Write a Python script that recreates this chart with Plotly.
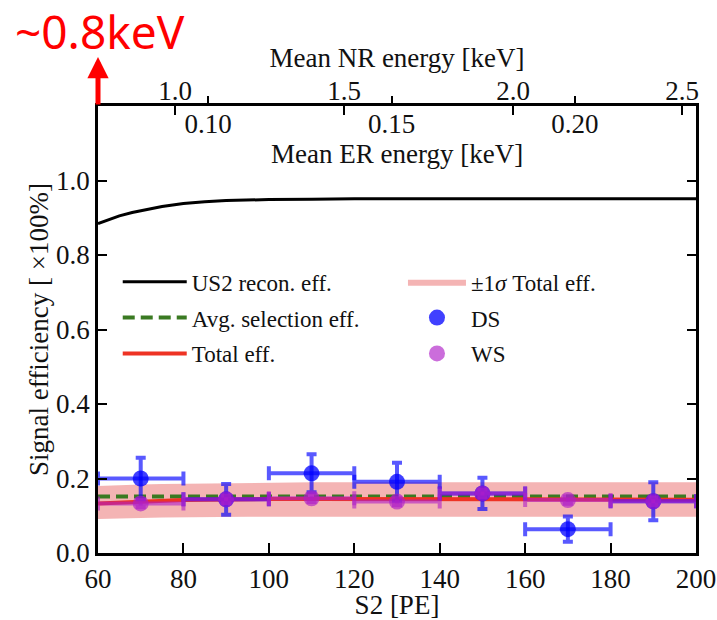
import plotly.graph_objects as go

# ---- data -------------------------------------------------------------
s2_curve = [60, 62, 65, 68, 70, 75, 80, 85, 90, 95, 100, 110, 120, 140, 160, 180, 200]
recon_eff = [0.884, 0.893, 0.905, 0.914, 0.919, 0.930, 0.938, 0.943, 0.946, 0.948,
             0.949, 0.950, 0.951, 0.951, 0.951, 0.951, 0.951]
total_eff = [0.133, 0.134, 0.136, 0.138, 0.139, 0.141, 0.142, 0.143, 0.144, 0.144,
             0.145, 0.145, 0.145, 0.145, 0.145, 0.144, 0.143]
total_lo = [0.091, 0.092, 0.093, 0.094, 0.094, 0.095, 0.096, 0.096, 0.097, 0.097,
            0.097, 0.097, 0.097, 0.097, 0.097, 0.097, 0.097]
total_hi = [0.180, 0.181, 0.182, 0.183, 0.184, 0.185, 0.186, 0.187, 0.188, 0.189,
            0.189, 0.190, 0.190, 0.190, 0.190, 0.190, 0.190]

sel_x = [60, 200]
sel_eff = [0.152, 0.152]

bin_centers = [70, 90, 110, 130, 150, 170, 190]
bin_half = [10, 10, 10, 10, 10, 10, 10]
ds_eff = [0.200, 0.144, 0.214, 0.191, 0.160, 0.064, 0.139]
ds_err = [0.056, 0.041, 0.051, 0.051, 0.042, 0.034, 0.051]
ws_eff = [0.133, 0.144, 0.147, 0.138, 0.160, 0.142, 0.139]
ws_err = [0.010, 0.010, 0.010, 0.010, 0.010, 0.010, 0.010]

s2_ticks = [60, 80, 100, 120, 140, 160, 180, 200]
eff_ticks = [0.0, 0.2, 0.4, 0.6, 0.8, 1.0, 1.2]
nr_ticks = [1.0, 1.5, 2.0, 2.5]
nr_range = [0.772, 2.541]
er_ticks = [0.10, 0.15, 0.20]
er_range = [0.070, 0.233]

SERIF = "Liberation Serif"
INK = "#111111"

fig = go.Figure()

# +-1 sigma band on the total efficiency
fig.add_trace(go.Scatter(x=s2_curve, y=total_lo, mode="lines", line=dict(width=0),
                         showlegend=False, hoverinfo="skip"))
fig.add_trace(go.Scatter(x=s2_curve, y=total_hi, mode="lines", line=dict(width=0),
                         fill="tonexty", fillcolor="rgba(236,130,130,0.6)",
                         name="±1<i>σ</i> Total eff.", legend="legend2",
                         legendgroup="band", legendrank=1))

fig.add_trace(go.Scatter(x=s2_curve, y=recon_eff, mode="lines",
                         line=dict(color="black", width=3),
                         name="US2 recon. eff.", legendgroup="recon", legendrank=1))
fig.add_trace(go.Scatter(x=sel_x, y=sel_eff, mode="lines",
                         line=dict(color="#3a7a22", width=4, dash="12px,6px"),
                         name="Avg. selection eff.", legendgroup="sel", legendrank=2))
fig.add_trace(go.Scatter(x=s2_curve, y=total_eff, mode="lines",
                         line=dict(color="#ee3324", width=4),
                         name="Total eff.", legendgroup="tot", legendrank=3))

fig.add_trace(go.Scatter(
    x=bin_centers, y=ds_eff, mode="markers", name="DS", legend="legend2",
    legendgroup="ds", legendrank=2,
    marker=dict(color="rgba(0,0,255,0.75)", size=16),
    error_y=dict(type="data", array=ds_err, color="rgba(0,0,255,0.65)", thickness=4, width=5),
    error_x=dict(type="data", array=bin_half, color="rgba(0,0,255,0.65)", thickness=4, width=7),
))
fig.add_trace(go.Scatter(
    x=bin_centers, y=ws_eff, mode="markers", name="WS", legend="legend2",
    legendgroup="ws", legendrank=3,
    marker=dict(color="rgba(175,30,200,0.65)", size=16),
    error_y=dict(type="data", array=ws_err, color="rgba(175,30,200,0.6)", thickness=4, width=5),
    error_x=dict(type="data", array=bin_half, color="rgba(175,30,200,0.6)", thickness=4, width=7),
))

axis_font = dict(family=SERIF, size=27, color=INK)

fig.update_layout(
    width=717, height=620,
    margin=dict(l=98, r=21, t=106, b=67, autoexpand=False),
    paper_bgcolor="white", plot_bgcolor="white",
    font=dict(family=SERIF, color=INK),
    xaxis=dict(
        range=[60, 200], tickvals=s2_ticks, ticktext=[str(v) for v in s2_ticks],
        ticks="inside", ticklen=10, tickwidth=2, tickcolor="black",
        showline=True, linewidth=2.5, linecolor="black", mirror=True,
        showgrid=False, zeroline=False, tickfont=axis_font,
        title=dict(text="S2 [PE]", font=axis_font, standoff=3),
    ),
    yaxis=dict(
        range=[0, 1.2], tickvals=eff_ticks, ticktext=[f"{v:.1f}" for v in eff_ticks],
        ticks="inside", ticklen=9, tickwidth=2, tickcolor="black",
        showline=True, linewidth=2.5, linecolor="black", mirror="ticks",
        showgrid=False, zeroline=False, tickfont=axis_font,
        title=dict(text="Signal efficiency [ ×100%]", font=axis_font, standoff=0),
    ),
    xaxis2=dict(
        overlaying="x", side="top", anchor="y", range=nr_range,
        tickvals=nr_ticks, ticktext=[f"{v:.1f}" for v in nr_ticks],
        ticks="inside", ticklen=9, tickwidth=2, tickcolor="black",
        showline=False, showgrid=False, zeroline=False, tickfont=axis_font,
        title=dict(text="Mean NR energy [keV]", font=axis_font, standoff=0),
    ),
    xaxis3=dict(
        overlaying="x", side="top", anchor="y", range=er_range,
        tickvals=er_ticks, ticktext=[f"{v:.2f}" for v in er_ticks],
        ticks="outside", ticklen=9, tickwidth=2, tickcolor="black",
        ticklabelposition="inside", ticklabelstandoff=5,
        showline=False, showgrid=False, zeroline=False, tickfont=axis_font,
    ),
    legend=dict(
        x=0.033, y=0.655, xanchor="left", yanchor="top",
        bgcolor="rgba(0,0,0,0)", font=dict(family=SERIF, size=23, color=INK),
        traceorder="grouped", tracegroupgap=3, itemwidth=64,
    ),
    legend2=dict(
        x=0.51, y=0.655, xanchor="left", yanchor="top",
        bgcolor="rgba(0,0,0,0)", font=dict(family=SERIF, size=23, color=INK),
        traceorder="grouped", tracegroupgap=3, itemwidth=58,
    ),
    showlegend=True,
)

# tie the two energy axes to a trace each so they are drawn
fig.add_trace(go.Scatter(x=nr_range, y=[None, None], xaxis="x2", showlegend=False, hoverinfo="skip"))
fig.add_trace(go.Scatter(x=er_range, y=[None, None], xaxis="x3", showlegend=False, hoverinfo="skip"))

# ER axis title sits inside the frame under its tick labels
fig.add_annotation(text="Mean ER energy [keV]", xref="paper", yref="paper",
                   x=0.5, y=(553 - 154) / 447, xanchor="center", yanchor="middle",
                   showarrow=False, font=axis_font)

# red marker of the lowest mean NR energy
fig.add_annotation(xref="x", yref="paper", x=60, y=(553 - 57) / 447,
                   ax=0, ay=49, axref="pixel", ayref="pixel", text="",
                   showarrow=True, arrowhead=2, arrowsize=0.85, arrowwidth=5,
                   arrowcolor="#ff0000")
fig.add_annotation(text="~0.8keV", xref="paper", yref="paper",
                   x=(13 - 98) / 598, y=(553 - 31) / 447, xanchor="left", yanchor="middle",
                   showarrow=False, font=dict(family="Noto Sans", size=46, color="#ff0000"))

fig.write_html("out.html")
